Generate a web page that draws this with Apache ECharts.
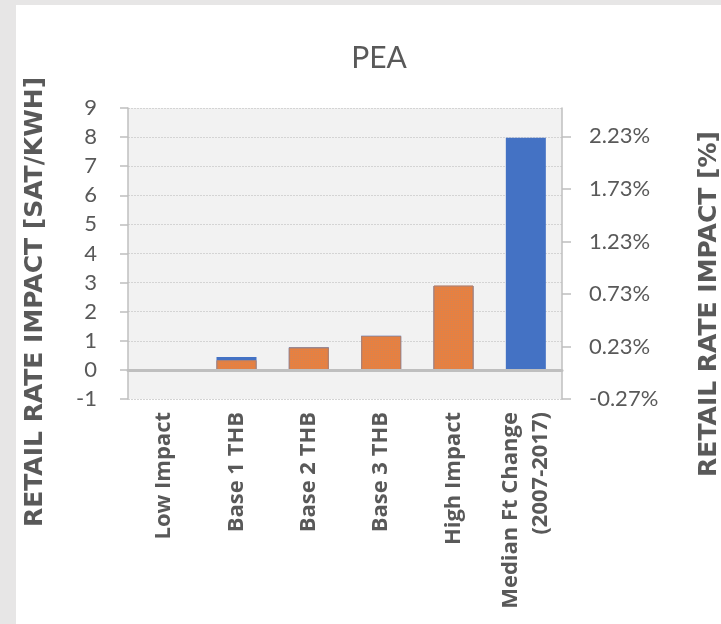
<!DOCTYPE html>
<html>
<head>
<meta charset="utf-8">
<script src="https://cdn.jsdelivr.net/npm/echarts@6/dist/echarts.min.js"></script>
<style>
html,body{margin:0;padding:0;background:#E7E6E6;}
#chart{width:721px;height:624px;}
</style>
</head>
<body>
<div id="chart"></div>
<script>
// ---- data ----
const categories = ['Low Impact', 'Base 1 THB', 'Base 2 THB', 'Base 3 THB', 'High Impact', 'Median Ft Change\n(2007-2017)'];
const impactSatKwh = [0, 0.44, 0.78, 1.17, 2.88, 7.98];      // left axis, Sat/kWh (blue)
const impactPercent = [0, 0.10, 0.22, 0.33, 0.81, null];     // right axis, % (orange)
const chartTitle = 'PEA';
const leftAxisTitle = 'RETAIL RATE IMPACT [SAT/KWH]';
const rightAxisTitle = 'RETAIL RATE IMPACT [%]';

const grey = '#595959';
const chart = echarts.init(document.getElementById('chart'), null, {renderer: 'canvas'});
chart.setOption({
  backgroundColor: '#E7E6E6',
  animation: false,
  graphic: [
    {type: 'rect', shape: {x: 16, y: 5, width: 705, height: 619}, style: {fill: '#ffffff'}, z: -10, silent: true},
    {type: 'text', x: 35, y: 302, rotation: Math.PI / 2, style: {text: leftAxisTitle, font: 'bold 25px "DejaVu Sans"', fill: grey, align: 'center', verticalAlign: 'middle'}},
    {type: 'text', x: 709, y: 304, rotation: Math.PI / 2, style: {text: rightAxisTitle, font: 'bold 25px "DejaVu Sans"', fill: grey, align: 'center', verticalAlign: 'middle'}}
  ],
  title: {
    text: chartTitle,
    left: 374, top: 38, textAlign: 'center',
    textStyle: {fontFamily: 'Lato', fontSize: 30, fontWeight: 'normal', color: grey}
  },
  grid: {left: 128, right: 159, top: 108, bottom: 225, show: true, backgroundColor: '#F2F2F2', borderWidth: 0, containLabel: false},
  xAxis: [
    {
      type: 'category', data: categories,
      axisLine: {show: true, onZero: true, onZeroAxisIndex: 0, lineStyle: {color: '#BFBFBF', width: 3}},
      axisTick: {show: false}, axisLabel: {show: false}, splitLine: {show: false}, z: 5
    },
    {
      type: 'category', data: categories, position: 'bottom',
      axisLine: {show: false, onZero: false}, axisTick: {show: false}, splitLine: {show: false},
      axisLabel: {rotate: 90, margin: 13, fontFamily: '"Open Sans"', fontWeight: 'bold', fontSize: 22, color: grey, lineHeight: 30, interval: 0}
    }
  ],
  yAxis: [
    {
      type: 'value', min: -1, max: 9, interval: 1, position: 'left',
      axisLine: {show: true, lineStyle: {color: '#BFBFBF', width: 1.5}},
      axisTick: {show: true, length: 8, lineStyle: {color: '#BFBFBF', width: 1.5}},
      splitLine: {show: true, lineStyle: {color: '#D4D4D4', type: [2, 1], width: 1}},
      axisLabel: {margin: 31, fontFamily: 'Lato', fontSize: 22, color: grey}
    },
    {
      type: 'value', min: -0.27, max: 2.5, interval: 0.5, position: 'right',
      axisLine: {show: true, lineStyle: {color: '#BFBFBF', width: 1.5}},
      axisTick: {show: true, length: 9, lineStyle: {color: '#BFBFBF', width: 1.5}},
      splitLine: {show: false},
      axisLabel: {margin: 27, fontFamily: 'Lato', fontSize: 22, color: grey, showMaxLabel: false,
        formatter: v => v.toFixed(2) + '%'}
    }
  ],
  series: [
    {
      name: 'Sat/kWh', type: 'bar', xAxisIndex: 0, yAxisIndex: 0, data: impactSatKwh,
      barWidth: 40, barGap: '-100%',
      itemStyle: {color: '#4472C4'}
    },
    {
      name: '%', type: 'bar', xAxisIndex: 0, yAxisIndex: 1, data: impactPercent,
      barWidth: 40, barGap: '-100%',
      itemStyle: {
        color: '#E8803F', borderColor: 'rgba(180,130,110,0.8)', borderWidth: 1,
        decal: {symbol: 'rect', symbolSize: 1, dashArrayX: [1, 1], dashArrayY: [1, 1], color: 'rgba(150,140,140,0.22)'}
      }
    }
  ]
});
</script>
</body>
</html>
